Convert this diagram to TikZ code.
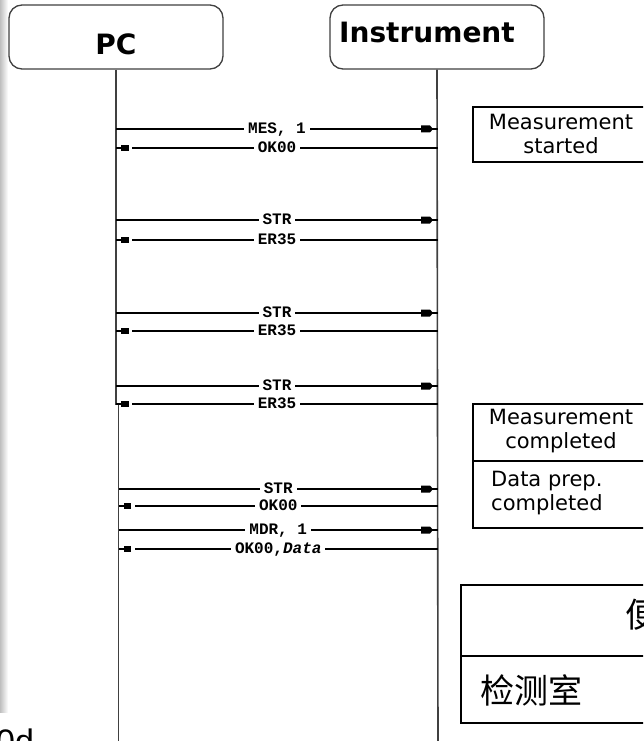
\documentclass[tikz,border=0pt]{standalone}
\usepackage{fontspec}
\setmainfont{DejaVu Sans}
\newfontfamily\msgfont{Liberation Mono}
\newfontfamily\cjkfont{Noto Sans CJK SC}
\newfontfamily\capfont{Liberation Sans}
\usetikzlibrary{decorations.markings}

\tikzset{
  headbox/.style={draw=black!75, line width=1.3pt, rounded corners=13pt,
    minimum width=214pt, minimum height=64pt},
  headtext/.style={font=\bfseries\fontsize{28}{28}\selectfont, inner sep=0pt},
  lifeline/.style={draw=black!75, line width=1.6pt},
  callmsg/.style={draw=black, line width=1.1pt, postaction={decorate},
    decoration={markings, mark=at position 1 with {
      \fill (-17pt,-3.5pt) -- (-8pt,-3.5pt) -- (-5pt,0pt) -- (-8pt,3.5pt)
        -- (-17pt,3.5pt) -- cycle;}}},
  replymsg/.style={draw=black, line width=1.1pt, postaction={decorate},
    decoration={markings, mark=at position 1 with {
      \fill[white] (-16pt,-1.5pt) rectangle (-12.5pt,1.5pt);
      \fill (-12.5pt,-3pt) rectangle (-5pt,3pt);}}},
  msglabel/.style={fill=white, anchor=base, yshift=-4pt, inner xsep=4pt,
    inner ysep=1pt, font=\msgfont\bfseries\fontsize{16}{16}\selectfont},
  notebox/.style={draw=black, line width=1.2pt},
  notetext/.style={align=center, inner sep=0pt,
    font=\fontsize{21}{24}\selectfont},
  tablebox/.style={draw=black, line width=1.6pt},
  cjktext/.style={inner sep=0pt, font=\cjkfont\fontsize{34}{34}\selectfont}
}

\begin{document}
\begin{tikzpicture}[x=1pt,y=-1pt]
\clip (0,0) rectangle (643,741);
\fill[white] (0,0) rectangle (643,741);
\shade[left color=black!25, right color=white] (0,0) rectangle (8,712);

% heads
\node[headbox] (pc) at (116,37) {};
\node[headtext] (pclabel) at (116,44) {PC};
\node[headbox] (inst) at (437,37) {};
\node[headtext] (instlabel) at (427,32) {Instrument};

% lifelines
\coordinate (pcjog) at (116,404);
\coordinate (pcjogb) at (118.5,404);
\coordinate (pcend) at (118.5,745);
\coordinate (instend) at (438,745);
\draw[lifeline] (pc.south) -- (pcjog) -- (pcjogb) -- (pcend);
\draw[lifeline] (inst.south) -- (instend);

% message ends
\coordinate (p1) at (116,129);   \coordinate (i1) at (438,129);
\coordinate (p2) at (116,148);   \coordinate (i2) at (438,148);
\coordinate (p3) at (116,220);   \coordinate (i3) at (438,220);
\coordinate (p4) at (116,240);   \coordinate (i4) at (438,240);
\coordinate (p5) at (116,313);   \coordinate (i5) at (438,313);
\coordinate (p6) at (116,331);   \coordinate (i6) at (438,331);
\coordinate (p7) at (116,386);   \coordinate (i7) at (438,386);
\coordinate (p8) at (116,404);   \coordinate (i8) at (438,404);
\coordinate (p9) at (118.5,489); \coordinate (i9) at (438,489);
\coordinate (p10) at (118.5,506); \coordinate (i10) at (438,506);
\coordinate (p11) at (118.5,530); \coordinate (i11) at (438,530);
\coordinate (p12) at (118.5,549); \coordinate (i12) at (438,549);

% messages
\draw[callmsg] (p1) -- node[msglabel] {MES, 1} (i1);
\draw[replymsg] (i2) -- node[msglabel] {OK00} (p2);
\draw[callmsg] (p3) -- node[msglabel] {STR} (i3);
\draw[replymsg] (i4) -- node[msglabel] {ER35} (p4);
\draw[callmsg] (p5) -- node[msglabel] {STR} (i5);
\draw[replymsg] (i6) -- node[msglabel] {ER35} (p6);
\draw[callmsg] (p7) -- node[msglabel] {STR} (i7);
\draw[replymsg] (i8) -- node[msglabel] {ER35} (p8);
\draw[callmsg] (p9) -- node[msglabel] {STR} (i9);
\draw[replymsg] (i10) -- node[msglabel] {OK00} (p10);
\draw[callmsg] (p11) -- node[msglabel] {MDR, 1} (i11);
\draw[replymsg] (i12) -- node[msglabel] {OK00,\textit{Data}} (p12);

% state notes
\draw[notebox] (473,107) rectangle (660,162);
\node[notetext] (mstart) at (561,134) {Measurement\\started};
\draw[notebox] (473,404) rectangle (660,528);
\draw[notebox] (473,461) -- (660,461);
\node[notetext] (mdone) at (561,431) {Measurement\\completed};
\node[notetext, align=left, anchor=west] (dprep) at (491,493) {Data prep.\\completed};

% table
\draw[tablebox] (461,585) rectangle (660,723);
\draw[tablebox] (461,656) -- (660,656);
\node[cjktext, anchor=west] (room) at (480,690) {检测室};
\node[cjktext, anchor=west] (use) at (625,615) {便};

\node[anchor=base west, inner sep=0pt, font=\capfont\fontsize{34}{34}\selectfont] (cut) at (-4,753) {0d};
\end{tikzpicture}
\end{document}
